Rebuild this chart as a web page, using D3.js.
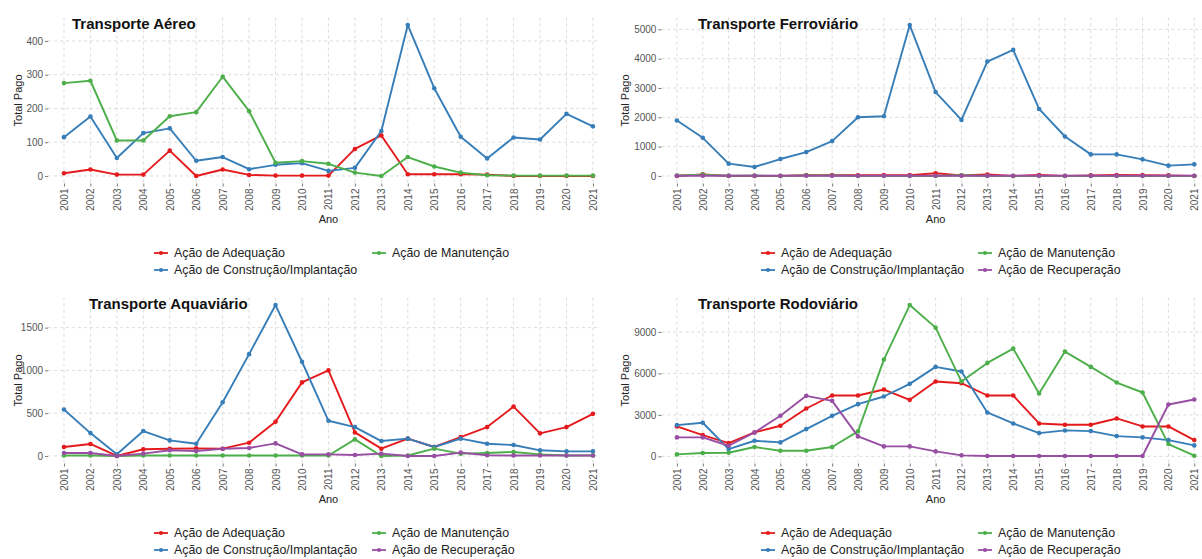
<!DOCTYPE html>
<html>
<head>
<meta charset="utf-8">
<script src="https://cdn.jsdelivr.net/npm/d3@7"></script>
<style>
  html, body { margin: 0; padding: 0; background: #ffffff; }
  svg { display: block; font-family: "Liberation Sans", Arial, sans-serif; }
</style>
</head>
<body>
<svg id="chart" width="1202" height="559"></svg>
<script>
// Years on the x axis
const years = ["2001","2002","2003","2004","2005","2006","2007","2008","2009","2010",
               "2011","2012","2013","2014","2015","2016","2017","2018","2019","2020","2021"];

// Series names and colours
const seriesNames = ["Ação de Adequação", "Ação de Construção/Implantação",
                     "Ação de Manutenção", "Ação de Recuperação"];
const seriesColors = ["#E41A1C", "#377EB8", "#4DAF4A", "#984EA3"];

// Transporte Aéreo
const aereoAdequacao  = [8, 19, 4, 4, 75, 0, 19, 3, 1, 1, 1, 80, 120, 5, 5, 5, 4, 0, 0, 0, 0];
const aereoConstrucao = [115, 176, 53, 127, 141, 45, 56, 20, 33, 38, 15, 24, 133, 447, 260, 116, 52, 114, 108, 184, 147];
const aereoManutencao = [275, 282, 105, 105, 177, 189, 294, 192, 39, 44, 36, 10, 0, 56, 28, 10, 2, 1, 1, 1, 1];

// Transporte Ferroviário
const ferroAdequacao   = [0, 55, 0, 0, 0, 30, 30, 25, 30, 30, 90, 20, 50, 0, 35, 0, 20, 35, 30, 20, 0];
const ferroConstrucao  = [1889, 1301, 419, 305, 577, 814, 1188, 2002, 2036, 5147, 2862, 1912, 3903, 4299, 2285, 1346, 735, 735, 566, 351, 396];
const ferroManutencao  = [15, 45, 5, 15, 0, 20, 15, 0, 0, 0, 0, 25, 0, 0, 0, 0, 0, 0, 0, 0, 0];
const ferroRecuperacao = [8, 8, 8, 8, 8, 8, 8, 8, 8, 8, 8, 8, 8, 8, 8, 8, 8, 8, 8, 8, 8];

// Transporte Aquaviário
const aquaAdequacao   = [105, 140, 0, 78, 85, 89, 85, 155, 399, 860, 1000, 275, 85, 202, 105, 221, 337, 577, 264, 337, 492];
const aquaConstrucao  = [543, 267, 19, 291, 182, 143, 628, 1190, 1764, 1101, 411, 337, 174, 202, 105, 202, 143, 128, 66, 54, 54];
const aquaManutencao  = [5, 5, 0, 5, 5, 5, 5, 5, 5, 5, 5, 194, 0, 5, 85, 27, 35, 47, 19, 5, 5];
const aquaRecuperacao = [35, 35, 0, 27, 66, 58, 85, 93, 147, 19, 19, 12, 27, 0, 0, 39, 8, 5, 5, 5, 5];

// Transporte Rodoviário
const rodoAdequacao   = [2166, 1540, 962, 1732, 2214, 3465, 4403, 4403, 4836, 4090, 5414, 5294, 4403, 4403, 2382, 2286, 2286, 2743, 2166, 2166, 1179];
const rodoConstrucao  = [2262, 2430, 529, 1131, 1011, 1973, 2936, 3778, 4331, 5245, 6473, 6136, 3176, 2382, 1684, 1877, 1829, 1468, 1372, 1179, 794];
const rodoManutencao  = [144, 241, 265, 674, 409, 409, 674, 1805, 7002, 10948, 9312, 5414, 6761, 7796, 4548, 7579, 6473, 5342, 4620, 890, 48];
const rodoRecuperacao = [1372, 1372, 770, 1732, 2936, 4379, 4018, 1444, 722, 722, 361, 72, 30, 30, 30, 30, 30, 30, 30, 3754, 4115];

// Y tick labels per panel
const aereoTicks = [0, 100, 200, 300, 400];
const ferroTicks = [0, 1000, 2000, 3000, 4000, 5000];
const aquaTicks  = [0, 500, 1000, 1500];
const rodoTicks  = [0, 3000, 6000, 9000];

const panels = [
  { title: "Transporte Aéreo", series: [aereoAdequacao, aereoConstrucao, aereoManutencao, null],
    ticks: aereoTicks, col: 0, row: 0 },
  { title: "Transporte Ferroviário", series: [ferroAdequacao, ferroConstrucao, ferroManutencao, ferroRecuperacao],
    ticks: ferroTicks, col: 1, row: 0 },
  { title: "Transporte Aquaviário", series: [aquaAdequacao, aquaConstrucao, aquaManutencao, aquaRecuperacao],
    ticks: aquaTicks, col: 0, row: 1 },
  { title: "Transporte Rodoviário", series: [rodoAdequacao, rodoConstrucao, rodoManutencao, rodoRecuperacao],
    ticks: rodoTicks, col: 1, row: 1 }
];

// Layout of the 2x2 grid of plots
const colLayout = [
  { clipX: 0,   clipW: 600, left: 48.1,  right: 608.8,  yTitleX: 18,  legendX: 174, legendCol2: 392 },
  { clipX: 600, clipW: 602, left: 661.4, right: 1209.8, yTitleX: 625, legendX: 781, legendCol2: 998 }
];
const titleXRow = [[72, 698], [89, 698]];
const rowH = 280;
const panelTop = 17.5, panelBottom = 183.5;
const fontFamily = "'Liberation Sans', Arial, sans-serif";

const svg = d3.select("#chart");
const defs = svg.append("defs");

panels.forEach((p, i) => {
  const L = colLayout[p.col];
  const oy = p.row * rowH;
  const clipId = "clip" + i;
  defs.append("clipPath").attr("id", clipId)
    .append("rect").attr("x", L.clipX).attr("y", oy).attr("width", L.clipW).attr("height", rowH);

  const g = svg.append("g").attr("clip-path", `url(#${clipId})`);

  const x = d3.scalePoint().domain(years).range([L.left, L.right]).padding(0.6);

  const allVals = p.series.filter(s => s).flat();
  const [mn, mx] = d3.extent(allVals);
  const pad = (mx - mn) * 0.05;
  const y = d3.scaleLinear().domain([mn - pad, mx + pad]).range([oy + panelBottom, oy + panelTop]);

  // Grid
  const grid = g.append("g").attr("stroke", "#d2d2d2").attr("stroke-width", 0.8).attr("stroke-dasharray", "3,3");
  grid.selectAll("line.h").data(p.ticks).join("line")
    .attr("x1", L.left).attr("x2", L.right)
    .attr("y1", d => y(d)).attr("y2", d => y(d));
  grid.selectAll("line.v").data(years).join("line")
    .attr("x1", d => x(d)).attr("x2", d => x(d))
    .attr("y1", oy + panelTop).attr("y2", oy + panelBottom);

  // Y axis
  const yAxis = d3.axisLeft(y).tickValues(p.ticks).tickSize(3).tickPadding(2).tickFormat(d3.format("d"));
  const ya = g.append("g").attr("transform", `translate(${L.left},0)`).call(yAxis);
  ya.select(".domain").remove();
  ya.selectAll(".tick line").attr("stroke", "#555").attr("stroke-width", 0.8);
  ya.selectAll(".tick text").attr("fill", "#555").attr("font-size", 10).attr("font-family", fontFamily);

  // X axis
  const xAxis = d3.axisBottom(x).tickSize(3).tickPadding(2);
  const xa = g.append("g").attr("transform", `translate(0,${oy + panelBottom})`).call(xAxis);
  xa.select(".domain").remove();
  xa.selectAll(".tick line").attr("stroke", "#555").attr("stroke-width", 0.8);
  xa.selectAll(".tick text").attr("fill", "#555").attr("font-size", 10).attr("font-family", fontFamily)
    .attr("text-anchor", "end").attr("dy", "0.35em")
    .attr("transform", "translate(0,5) rotate(-90)")
    .attr("x", 0).attr("y", 0);

  // Axis titles
  g.append("text").attr("x", (x(years[0]) + x(years[years.length - 1])) / 2).attr("y", oy + 223)
    .attr("text-anchor", "middle").attr("font-size", 11).attr("fill", "#222").text("Ano");
  g.append("text")
    .attr("transform", `translate(${L.yTitleX + 4},${oy + (panelTop + panelBottom) / 2}) rotate(-90)`)
    .attr("text-anchor", "middle").attr("font-size", 11).attr("fill", "#222").text("Total Pago");

  // Lines
  const line = d3.line().defined(d => d.v != null).x(d => x(d.year)).y(d => y(d.v));
  p.series.forEach((s, k) => {
    if (!s) return;
    const data = years.map((yr, j) => ({ year: yr, v: s[j] }));
    g.append("path").datum(data).attr("fill", "none").attr("stroke", seriesColors[k])
      .attr("stroke-width", 1.9).attr("stroke-linejoin", "round").attr("d", line);
  });
  // Points
  p.series.forEach((s, k) => {
    if (!s) return;
    const data = years.map((yr, j) => ({ year: yr, v: s[j] }));
    g.append("g").selectAll("circle").data(data).join("circle")
      .attr("cx", d => x(d.year)).attr("cy", d => y(d.v)).attr("r", 2.3)
      .attr("fill", seriesColors[k]);
  });

  // Title
  g.append("text").attr("x", titleXRow[p.row][p.col]).attr("y", oy + 29)
    .attr("font-size", 15).attr("font-weight", "bold").attr("fill", "#111").text(p.title);

  // Legend, two columns filled column-wise
  const items = seriesNames.map((n, k) => ({ name: n, k })).filter(d => p.series[d.k]);
  items.forEach((d, idx) => {
    const c = Math.floor(idx / 2), r = idx % 2;
    const tx = c === 0 ? L.legendX : L.legendCol2;
    const ty = oy + 253 + r * 17;
    g.append("line").attr("x1", tx - 20).attr("x2", tx - 6).attr("y1", ty).attr("y2", ty)
      .attr("stroke", seriesColors[d.k]).attr("stroke-width", 1.8);
    g.append("circle").attr("cx", tx - 13).attr("cy", ty).attr("r", 2.1).attr("fill", seriesColors[d.k]);
    g.append("text").attr("x", tx).attr("y", ty).attr("dy", "0.36em")
      .attr("font-size", 12.4).attr("fill", "#222").text(d.name);
  });
});
</script>
</body>
</html>
